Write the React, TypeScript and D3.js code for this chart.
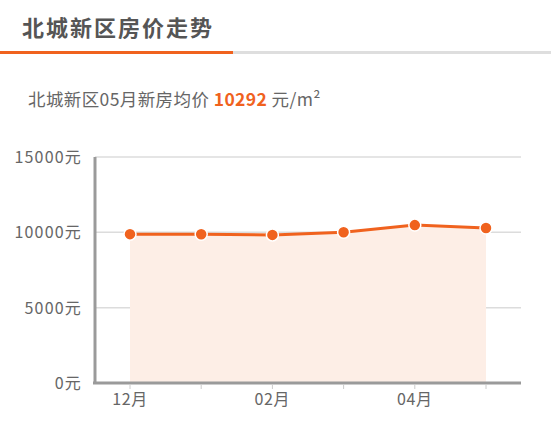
import React, { useRef, useEffect } from 'react';
import * as d3 from 'd3';

const months = ['12月', '01月', '02月', '03月', '04月', '05月'];
const prices = [9880, 9870, 9830, 10010, 10480, 10292];
const yTicks = [0, 5000, 10000, 15000];
const shownLabels = ['12月', '02月', '04月'];

const ORANGE = '#f0621e';
const FONT = '"Noto Sans CJK SC", "Noto Sans", sans-serif';

const PriceChart: React.FC = () => {
  const svgRef = useRef<SVGSVGElement>(null);

  useEffect(() => {
    if (!svgRef.current) return;
    const svg = d3.select(svgRef.current);
    svg.selectAll('*').remove();

    // Header
    svg.append('text')
      .attr('x', 22).attr('y', 36)
      .attr('font-family', FONT).attr('font-size', 22).attr('font-weight', 'bold')
      .attr('letter-spacing', 2)
      .attr('fill', '#555')
      .text('北城新区房价走势');
    svg.append('rect').attr('x', 0).attr('y', 51).attr('width', 551).attr('height', 3).attr('fill', '#dedede');
    svg.append('rect').attr('x', 0).attr('y', 51).attr('width', 233).attr('height', 3).attr('fill', ORANGE);

    const sub = svg.append('text')
      .attr('x', 28).attr('y', 106)
      .attr('font-family', FONT).attr('font-size', 17.5)
      .attr('letter-spacing', 0.4)
      .attr('fill', '#666');
    sub.append('tspan').text('北城新区05月新房均价 ');
    sub.append('tspan').attr('fill', ORANGE).attr('font-weight', 'bold').text(String(prices[prices.length - 1]));
    sub.append('tspan').text(' 元/m²');

    const margin = { top: 157, left: 95, right: 30, bottom: 41 };
    const w = 551 - margin.left - margin.right;
    const h = 424 - margin.top - margin.bottom;
    const g = svg.append('g').attr('transform', `translate(${margin.left},${margin.top})`);

    const x = d3.scalePoint<string>().domain(months).range([35, 391]);
    const y = d3.scaleLinear().domain([0, 15000]).range([h, 0]);

    // Grid
    g.append('g')
      .selectAll('line')
      .data(yTicks.slice(1))
      .join('line')
      .attr('x1', 0).attr('x2', w)
      .attr('y1', d => y(d)).attr('y2', d => y(d))
      .attr('stroke', '#dcdcdc').attr('stroke-width', 1.5);

    // Area
    const area = d3.area<number>()
      .x((_, i) => x(months[i])!)
      .y0(y(0))
      .y1(d => y(d));
    g.append('path').datum(prices).attr('d', area).attr('fill', '#fdeee6');

    // Y labels
    g.append('g')
      .selectAll('text')
      .data(yTicks)
      .join('text')
      .attr('x', -13).attr('y', d => y(d) + 6)
      .attr('text-anchor', 'end')
      .attr('font-family', FONT).attr('font-size', 16).attr('letter-spacing', 1.2).attr('fill', '#666')
      .text(d => `${d}元`);

    // Axes lines
    g.append('line').attr('x1', 0).attr('x2', 0).attr('y1', 0).attr('y2', h + 1)
      .attr('stroke', '#9a9a9a').attr('stroke-width', 3);
    g.append('line').attr('x1', -2).attr('x2', w).attr('y1', h).attr('y2', h)
      .attr('stroke', '#9a9a9a').attr('stroke-width', 3);

    // X ticks
    g.append('g')
      .selectAll('line')
      .data(months)
      .join('line')
      .attr('x1', d => x(d)!).attr('x2', d => x(d)!)
      .attr('y1', h + 1).attr('y2', h + 6)
      .attr('stroke', '#ccc').attr('stroke-width', 1);
    g.append('g')
      .selectAll('text')
      .data(shownLabels)
      .join('text')
      .attr('x', d => x(d)!).attr('y', h + 22)
      .attr('text-anchor', 'middle')
      .attr('font-family', FONT).attr('font-size', 16).attr('letter-spacing', 0.6).attr('fill', '#666')
      .text(d => d);

    // Line
    const line = d3.line<number>().x((_, i) => x(months[i])!).y(d => y(d));
    g.append('path').datum(prices).attr('d', line)
      .attr('fill', 'none').attr('stroke', ORANGE).attr('stroke-width', 3);

    g.append('g')
      .selectAll('circle')
      .data(prices)
      .join('circle')
      .attr('cx', (_, i) => x(months[i])!)
      .attr('cy', d => y(d))
      .attr('r', 6)
      .attr('fill', ORANGE)
      .attr('stroke', '#fff').attr('stroke-width', 1.5);
  }, []);

  return <svg ref={svgRef} width={551} height={424} style={{ position: 'fixed', left: 0, top: 0, background: '#fff' }} />;
};

export default function App() {
  return <PriceChart />;
}
